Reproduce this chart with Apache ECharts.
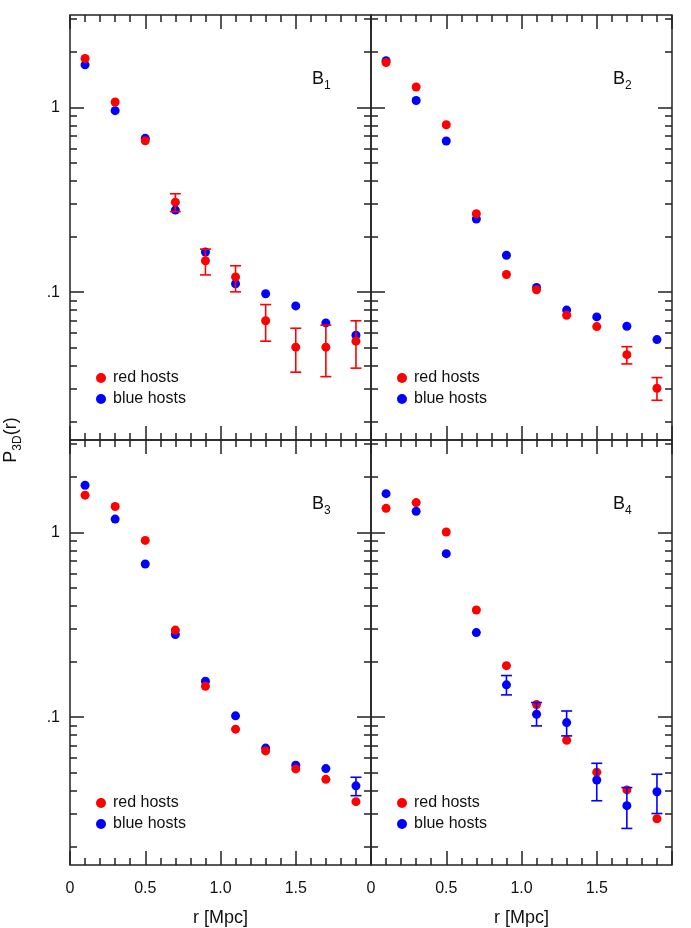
<!DOCTYPE html>
<html>
<head>
<meta charset="utf-8">
<script src="https://cdn.jsdelivr.net/npm/echarts@6/dist/echarts.min.js"></script>
<style>
  html, body { margin: 0; padding: 0; background: #fff; }
  #chart { width: 691px; height: 928px; }
</style>
</head>
<body>
<div id="chart"></div>
<script>
// radii of the bins [Mpc]
const radii = [0.1, 0.3, 0.5, 0.7, 0.9, 1.1, 1.3, 1.5, 1.7, 1.9];

// B1
const redB1  = [1.84, 1.07, 0.66, 0.307, 0.148, 0.121, 0.070, 0.0504, 0.0504, 0.0543];
const blueB1 = [1.70, 0.96, 0.68, 0.278, 0.165, 0.111, 0.098, 0.0843, 0.0682, 0.0585];
const redErrB1 = [[0.7, 0.273, 0.341], [0.9, 0.124, 0.171], [1.1, 0.1004, 0.139], [1.3, 0.0543, 0.0857],
                  [1.5, 0.0369, 0.0638], [1.7, 0.0349, 0.0663], [1.9, 0.0388, 0.0700]];
const blueErrB1 = [];

// B2
const redB2  = [1.75, 1.29, 0.806, 0.266, 0.1246, 0.103, 0.075, 0.0651, 0.0459, 0.0302];
const blueB2 = [1.79, 1.09, 0.658, 0.249, 0.1585, 0.106, 0.080, 0.0735, 0.0654, 0.0554];
const redErrB2 = [[1.7, 0.0409, 0.0507], [1.9, 0.0260, 0.0345]];
const blueErrB2 = [];

// B3
const redB3  = [1.59, 1.38, 0.905, 0.296, 0.147, 0.0861, 0.0657, 0.0525, 0.0461, 0.0349];
const blueB3 = [1.80, 1.18, 0.674, 0.280, 0.1567, 0.1017, 0.068, 0.055, 0.0527, 0.0425];
const redErrB3 = [];
const blueErrB3 = [[1.9, 0.0376, 0.0473]];

// B4
const redB4  = [1.35, 1.45, 1.005, 0.380, 0.190, 0.117, 0.075, 0.0504, 0.0404, 0.0282];
const blueB4 = [1.62, 1.30, 0.767, 0.287, 0.1496, 0.1037, 0.0935, 0.0457, 0.0332, 0.0395];
const redErrB4 = [];
const blueErrB4 = [[0.9, 0.132, 0.168], [1.1, 0.0897, 0.120], [1.3, 0.0792, 0.108],
                   [1.5, 0.0353, 0.0563], [1.7, 0.0250, 0.0416], [1.9, 0.0301, 0.0491]];

// tick values
const yMajor = [0.1, 1];
const yMinor = [0.02, 0.03, 0.04, 0.05, 0.06, 0.07, 0.08, 0.09,
                0.2, 0.3, 0.4, 0.5, 0.6, 0.7, 0.8, 0.9, 2, 3];
const yMin = Math.pow(10, -1.8);
const yMax = Math.pow(10, 0.5);

const RED = '#ff0000';
const BLUE = '#0000ff';
const INK = '#222';
const FONT = 'Liberation Sans, Arial, sans-serif';

const panels = [
  { left: 70,  top: 15,  red: redB1, blue: blueB1, redErr: redErrB1, blueErr: blueErrB1, sub: '1' },
  { left: 371, top: 15,  red: redB2, blue: blueB2, redErr: redErrB2, blueErr: blueErrB2, sub: '2' },
  { left: 70,  top: 440, red: redB3, blue: blueB3, redErr: redErrB3, blueErr: blueErrB3, sub: '3' },
  { left: 371, top: 440, red: redB4, blue: blueB4, redErr: redErrB4, blueErr: blueErrB4, sub: '4' }
];
const W = 301, H = 425;

const grid = [], xAxis = [], yAxis = [], series = [], legend = [], graphic = [];

function errorBars(color) {
  return function (params, api) {
    const x = api.value(0);
    const top = api.coord([x, api.value(2)]);
    const bot = api.coord([x, api.value(1)]);
    const hw = 5.5;
    const style = { stroke: color, lineWidth: 1.6 };
    return {
      type: 'group',
      children: [
        { type: 'line', shape: { x1: top[0], y1: top[1], x2: bot[0], y2: bot[1] }, style: style },
        { type: 'line', shape: { x1: top[0] - hw, y1: top[1], x2: top[0] + hw, y2: top[1] }, style: style },
        { type: 'line', shape: { x1: bot[0] - hw, y1: bot[1], x2: bot[0] + hw, y2: bot[1] }, style: style }
      ]
    };
  };
}

panels.forEach(function (p, i) {
  const bottomRow = i >= 2;
  const leftCol = i % 2 === 0;
  grid.push({
    left: p.left, top: p.top, width: W, height: H,
    show: true, borderColor: INK, borderWidth: 1.5, backgroundColor: 'transparent',
    outerBoundsMode: 'none'
  });

  ['bottom', 'top'].forEach(function (pos) {
    const labelled = pos === 'bottom' && bottomRow;
    xAxis.push({
      gridIndex: i, type: 'value', position: pos,
      min: 0, max: 2, interval: 0.5,
      axisLine: { show: false },
      axisTick: { inside: true, length: 14, lineStyle: { color: INK, width: 1.5 } },
      minorTick: { show: true, splitNumber: 5, length: 7, lineStyle: { color: INK, width: 1.5 } },
      splitLine: { show: false },
      minorSplitLine: { show: false },
      axisLabel: {
        show: labelled, margin: 16, fontSize: 16, color: '#111', fontFamily: FONT,
        showMaxLabel: false, showMinLabel: true,
        formatter: function (v) { return v === 0 ? '0' : v.toFixed(1); }
      },
      name: labelled ? 'r [Mpc]' : '',
      nameLocation: 'middle', nameGap: 44,
      nameTextStyle: { fontSize: 18, color: '#111', fontFamily: FONT }
    });
  });

  ['left', 'right'].forEach(function (pos) {
    [yMajor, yMinor].forEach(function (vals, k) {
      const labelled = pos === 'left' && leftCol && k === 0;
      yAxis.push({
        gridIndex: i, type: 'log', position: pos,
        min: yMin, max: yMax,
        axisLine: { show: false },
        axisTick: { inside: true, length: k === 0 ? 14 : 7, customValues: vals,
                    lineStyle: { color: INK, width: 1.5 } },
        minorTick: { show: false },
        splitLine: { show: false },
        axisLabel: {
          show: labelled, customValues: yMajor, margin: 10,
          fontSize: 16, color: '#111', fontFamily: FONT,
          formatter: function (v) { return String(+(+v).toPrecision(3)).replace(/^0\./, '.'); }
        }
      });
    });
  });

  const xi = 2 * i, yi = 4 * i;
  series.push({
    type: 'scatter', name: 'blue hosts', xAxisIndex: xi, yAxisIndex: yi,
    data: radii.map(function (r, k) { return [r, p.blue[k]]; }),
    symbol: 'circle', symbolSize: 9, itemStyle: { color: BLUE, opacity: 1 }, z: 2
  });
  series.push({
    type: 'scatter', name: 'red hosts', xAxisIndex: xi, yAxisIndex: yi,
    data: radii.map(function (r, k) { return [r, p.red[k]]; }),
    symbol: 'circle', symbolSize: 9, itemStyle: { color: RED, opacity: 1 }, z: 3
  });
  if (p.redErr.length) {
    series.push({
      type: 'custom', xAxisIndex: xi, yAxisIndex: yi, data: p.redErr,
      encode: { x: 0, y: [1, 2] }, renderItem: errorBars(RED), z: 4, silent: true
    });
  }
  if (p.blueErr.length) {
    series.push({
      type: 'custom', xAxisIndex: xi, yAxisIndex: yi, data: p.blueErr,
      encode: { x: 0, y: [1, 2] }, renderItem: errorBars(BLUE), z: 4, silent: true
    });
  }

  legend.push({
    data: ['red hosts', 'blue hosts'], orient: 'vertical',
    left: p.left + 21, top: p.top + 350,
    icon: 'circle', itemWidth: 14, itemHeight: 10, itemGap: 5,
    selectedMode: false,
    textStyle: { fontSize: 16, color: '#111', fontFamily: FONT }
  });

  graphic.push({
    type: 'text', x: p.left + 242, y: p.top + 51,
    style: {
      text: '{b|B}{s|' + p.sub + '}',
      fill: '#111', align: 'left', verticalAlign: 'top',
      rich: {
        b: { fontSize: 18, lineHeight: 26, fontFamily: FONT, fill: '#111' },
        s: { fontSize: 12, lineHeight: 12, verticalAlign: 'bottom', fontFamily: FONT, fill: '#111' }
      }
    }
  });
});

// shared y-axis title
graphic.push({
  type: 'text', x: 11, y: 440, rotation: Math.PI / 2,
  style: {
    text: '{a|P}{s|3D}{a|(r)}',
    fill: '#111', align: 'center', verticalAlign: 'middle',
    rich: {
      a: { fontSize: 18, lineHeight: 26, fontFamily: FONT, fill: '#111' },
      s: { fontSize: 12, lineHeight: 12, verticalAlign: 'bottom', fontFamily: FONT, fill: '#111' }
    }
  }
});

const chart = echarts.init(document.getElementById('chart'));
chart.setOption({
  backgroundColor: '#fff',
  animation: false,
  grid: grid,
  xAxis: xAxis,
  yAxis: yAxis,
  legend: legend,
  graphic: graphic,
  series: series
});
</script>
</body>
</html>
